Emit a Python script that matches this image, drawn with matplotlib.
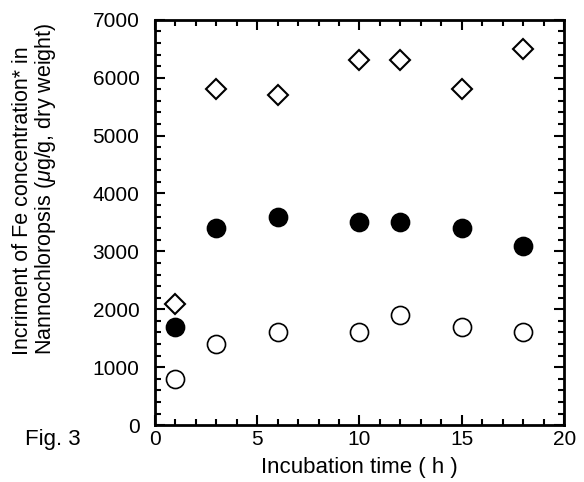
import matplotlib
matplotlib.use('Agg')
import matplotlib.pyplot as plt
from matplotlib.ticker import MultipleLocator

plt.rcParams['font.family'] = ['Liberation Sans', 'DejaVu Sans']
plt.rcParams['mathtext.fontset'] = 'custom'
plt.rcParams['mathtext.it'] = 'Liberation Sans:italic'
plt.rcParams['mathtext.rm'] = 'Liberation Sans'

# incubation time (h)
time_h = [1, 3, 6, 10, 12, 15, 18]
# Fe increment, three series
fe_diamond = [2100, 5800, 5700, 6300, 6300, 5800, 6500]
fe_filled = [1700, 3400, 3600, 3500, 3500, 3400, 3100]
fe_open = [800, 1400, 1600, 1600, 1900, 1700, 1600]

fig = plt.figure(figsize=(5.84, 4.82), dpi=100)
ax = fig.add_axes([0.265, 0.118, 0.701, 0.841])

ax.plot(time_h, fe_diamond, 'D', ms=10, mfc='white', mec='black', mew=1.5, ls='none')
ax.plot(time_h, fe_filled, 'o', ms=13, mfc='black', mec='black', mew=1.2, ls='none')
ax.plot(time_h, fe_open, 'o', ms=13, mfc='white', mec='black', mew=1.2, ls='none')

ax.set_xlim(0, 20)
ax.set_ylim(0, 7000)
ax.xaxis.set_major_locator(MultipleLocator(5))
ax.xaxis.set_minor_locator(MultipleLocator(1))
ax.yaxis.set_major_locator(MultipleLocator(1000))
ax.yaxis.set_minor_locator(MultipleLocator(200))
ax.tick_params(which='both', direction='in', top=True, right=True, width=1.5, labelsize=15)
ax.tick_params(which='major', length=7)
ax.tick_params(which='minor', length=4)
ax.tick_params(axis='y', which='major', pad=11)
for s in ax.spines.values():
    s.set_linewidth(2)

ax.set_xlabel('Incubation time ( h )', fontsize=16, labelpad=6)

fig.text(35 / 584, 1 - 189 / 482,
         'Incriment of Fe concentration* in\nNannochloropsis ($\\mu$g/g, dry weight)',
         rotation=90, ha='center', va='center', multialignment='left',
         fontsize=15.5, linespacing=1.05)

fig.text(0.043, 0.077, 'Fig. 3', fontsize=16)

fig.savefig('out.png', dpi=100)
